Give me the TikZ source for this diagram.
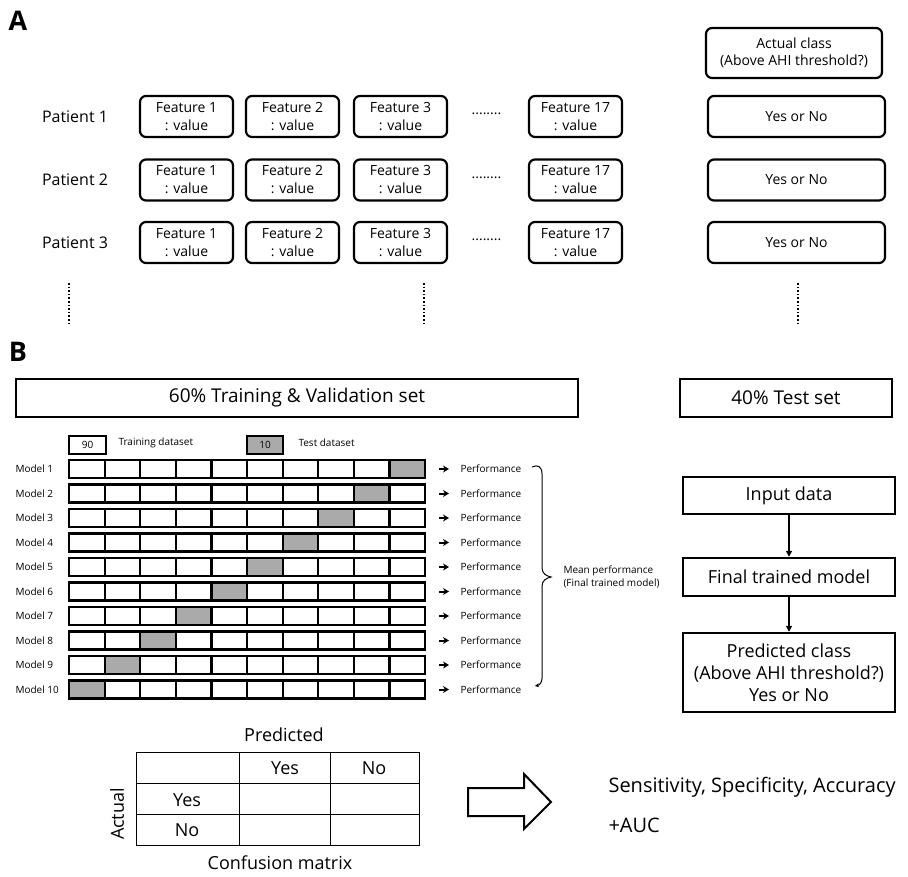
\documentclass[tikz,border=0pt]{standalone}
\usepackage{fontspec}
\setmainfont{Open Sans}
\usetikzlibrary{arrows.meta}
\definecolor{cellgray}{RGB}{170,170,170}
\def\fs#1#2{\fontsize{#1}{#2}\selectfont}

\begin{document}
\begin{tikzpicture}[x=1pt, y=-1pt,
	featbox/.style={draw, line width=2.2pt, rounded corners=6pt, minimum width=93pt, minimum height=41pt, inner sep=0pt, align=center, font=\fs{14}{18}},
	classbox/.style={featbox, minimum width=177pt},
	setbox/.style={draw, line width=2pt, minimum height=38pt, inner sep=0pt, font=\fs{19}{23}},
	cell/.style={draw, line width=2.2pt, minimum width=35.6pt, minimum height=18pt, inner sep=0pt},
	small/.style={font=\fs{10}{13}},
	flowbox/.style={draw, line width=2.4pt, minimum width=212pt, inner sep=0pt, align=center, font=\fs{18}{22}},
	flowarrow/.style={line width=2pt, -{Triangle[length=6pt, width=6pt]}},
	perfarrow/.style={line width=2pt, -{Stealth[length=6pt, width=7pt]}},
	vdots/.style={line width=1.6pt, dash pattern=on 1.6pt off 2pt},
	tabtext/.style={font=\fs{18}{22}}]
			%%%%% START %%%%%
			\useasboundingbox (0,0) rectangle (908,876);
			
			% part A
			\node[font=\bfseries\fs{27}{27}] (labA) at (18,21) {A};
			
			\node[classbox, minimum width=176pt, minimum height=50pt, font=\fs{14}{17}] (acthead) at (794,53) {Actual class\\(Above AHI threshold?)};
			
			\foreach \r/\y in {1/116.5, 2/180, 3/242.5} {
				\node[font=\fs{16}{19}] (pat\r) at (75,\y) {Patient \r};
				\foreach \c/\x in {1/186.5, 2/292.5, 3/400.5, 17/575.5}
					\node[featbox] (f\r-\c) at (\x,\y) {Feature \c\\: value};
				\node[font=\fs{14}{18}, anchor=base, inner sep=0pt] (dots\r) at (486.5,\y-2) {........};
				\node[classbox] (cls\r) at (796.5,\y) {Yes or No};
			}
			
			\foreach \x in {69,424,798}
				\draw[vdots] (\x,283) -- (\x,323);
			
			% part B
			\node[font=\bfseries\fs{27}{27}] (labB) at (18,352) {B};
			
			\node[setbox, minimum width=562pt] (trainset) at (297,398) {60\% Training \& Validation set};
			\node[setbox, minimum width=212pt] (testset) at (786,398) {40\% Test set};
			
			\node[cell, minimum width=37pt, font=\fs{10}{12}] (leg90) at (87.5,445) {90};
			\node[small, anchor=west] (legtrain) at (115,443) {Training dataset};
			\node[cell, fill=cellgray, minimum width=36pt, font=\fs{10}{12}] (leg10) at (265,445) {10};
			\node[small, anchor=west] (legtest) at (295,443) {Test dataset};
			
			\foreach \i in {1,...,10} {
				\pgfmathsetmacro\yy{469+(\i-1)*24.5}
				\pgfmathtruncatemacro\g{11-\i}
				\node[small, anchor=west] (mod\i) at (12,\yy) {Model \i};
				\foreach \j in {1,...,10} {
					\ifnum\j=\g \def\cfill{cellgray}\else\def\cfill{white}\fi
					\node[cell, fill=\cfill] (c\i-\j) at ({86.8+(\j-1)*35.6},\yy) {};
				}
				\node[small, anchor=west] (perf\i) at (457,\yy) {Performance};
				\draw[perfarrow, shorten <=13pt, shorten >=8pt] (c\i-10.east) -- (perf\i.west);
			}
			
			% brace
			\draw[line width=1pt, -{Stealth[length=4pt, width=4pt]}] (532,467) .. controls (538,464) and (542,467) .. (542,474) -- (542,568) .. controls (542,573) and (546,576) .. (551,577) .. controls (546,578) and (542,581) .. (542,586) -- (542,678) .. controls (542,682) and (540,685) .. (535,686);
			\node[small, anchor=west, align=left] (meanperf) at (560,577) {Mean performance\\(Final trained model)};
			
			\node[flowbox, minimum height=37pt] (input) at (789,495.5) {Input data};
			\node[flowbox, minimum height=38pt] (final) at (789,577) {Final trained model};
			\node[flowbox, minimum height=79pt] (pred) at (789,672.5) {Predicted class\\(Above AHI threshold?)\\Yes or No};
			\draw[flowarrow] (input) -- (final);
			\draw[flowarrow] (final) -- (pred);
			
			% confusion matrix
			\draw[line width=1pt] (136,752) rectangle (419,845);
			\draw[line width=1pt] (239,752) -- (239,845) (330,752) -- (330,845) (136,783) -- (419,783) (136,814) -- (419,814);
			\node[tabtext] (predhead) at (284,735) {Predicted};
			\node[tabtext] (colyes) at (285,768) {Yes};
			\node[tabtext] (colno) at (374,768) {No};
			\node[tabtext] (rowyes) at (187,800) {Yes};
			\node[tabtext] (rowno) at (187,830) {No};
			\node[tabtext, rotate=90] (acthead2) at (117,814) {Actual};
			\node[tabtext] (confmat) at (280,863) {Confusion matrix};
			
			\draw[line width=2pt, line join=miter] (468,788) -- (524,788) -- (524,774) -- (551,802) -- (524,829) -- (524,816) -- (468,816) -- cycle;
			\node[font=\fs{20}{24}, anchor=west] (metrics) at (605,787) {Sensitivity, Specificity, Accuracy};
			\node[font=\fs{20}{24}, anchor=west] (auc) at (605,825) {+AUC};
			
			%%%%% END %%%%%
\end{tikzpicture}
\end{document}
